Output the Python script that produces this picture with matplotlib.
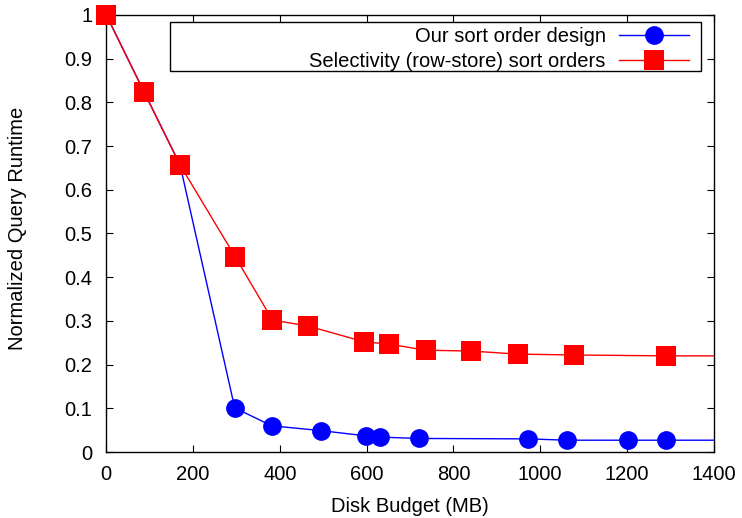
import matplotlib
matplotlib.use("Agg")
import matplotlib.pyplot as plt
from matplotlib.patches import Rectangle
from matplotlib.transforms import Bbox, TransformedBbox
from matplotlib.ticker import FormatStrFormatter, MultipleLocator

plt.rcParams["font.family"] = ["Liberation Sans", "DejaVu Sans"]

# Disk budget (MB) vs. normalized query runtime
budget_ours = [0, 87, 170, 296, 381, 494, 598, 632, 721, 973, 1061, 1203, 1289, 1500]
runtime_ours = [1.0, 0.824, 0.657, 0.101, 0.060, 0.049, 0.037, 0.034, 0.031, 0.030, 0.027, 0.027, 0.027, 0.027]

budget_sel = [0, 87, 170, 297, 383, 466, 595, 651, 736, 840, 949, 1078, 1289, 1500]
runtime_sel = [1.0, 0.824, 0.657, 0.447, 0.302, 0.288, 0.252, 0.247, 0.233, 0.231, 0.224, 0.222, 0.220, 0.220]

label_ours = "Our sort order design"
label_sel = "Selectivity (row-store) sort orders"

FS = 14.5

fig = plt.figure(figsize=(7.42, 5.18), dpi=100)
ax = fig.add_axes([106.3 / 742, 1 - 452 / 518, 607.4 / 742, 437 / 518])

# clip only at the right edge so markers on the left/top borders stay whole
clip = TransformedBbox(Bbox([[-0.05, -0.05], [1.0, 1.05]]), ax.transAxes)

l1, = ax.plot(budget_ours, runtime_ours, color="#0000ff", lw=1.0, marker="o",
              markersize=13.5, markeredgewidth=0, label=label_ours, zorder=3)
l2, = ax.plot(budget_sel, runtime_sel, color="#ff0000", lw=1.0, marker="s",
              markersize=14.2, markeredgewidth=0, label=label_sel, zorder=4)
for ln in (l1, l2):
    ln.set_clip_box(clip)

ax.set_xlim(0, 1400)
ax.set_ylim(0, 1)
ax.xaxis.set_major_locator(MultipleLocator(200))
ax.yaxis.set_major_locator(MultipleLocator(0.1))
ax.yaxis.set_major_formatter(FormatStrFormatter("%g"))
ax.tick_params(direction="in", length=5, width=0.8, top=True, right=True,
               labelsize=FS, pad=10)
ax.tick_params(axis="x", pad=9)
for sp in ax.spines.values():
    sp.set_linewidth(1.0)
    sp.set_zorder(2)

ax.set_xlabel("Disk Budget (MB)", fontsize=FS, labelpad=10)
fig.text(18 / 742, 1 - 228 / 518, "Normalized Query Runtime", rotation=90,
         ha="center", va="center", fontsize=FS)

# legend box
ax.add_patch(Rectangle((0.1049, 0.872), 0.875, 0.112, transform=ax.transAxes,
                       fill=True, facecolor="white", edgecolor="black",
                       lw=1.0, zorder=5, clip_on=False))
leg = ax.legend(loc="upper right", bbox_to_anchor=(0.9593, 0.9725),
                borderaxespad=0, borderpad=0, markerfirst=False,
                fontsize=FS, frameon=False, handlelength=3.48,
                handletextpad=0.65, labelspacing=0.3)
leg.set_zorder(6)

fig.savefig("out.png", dpi=100)
